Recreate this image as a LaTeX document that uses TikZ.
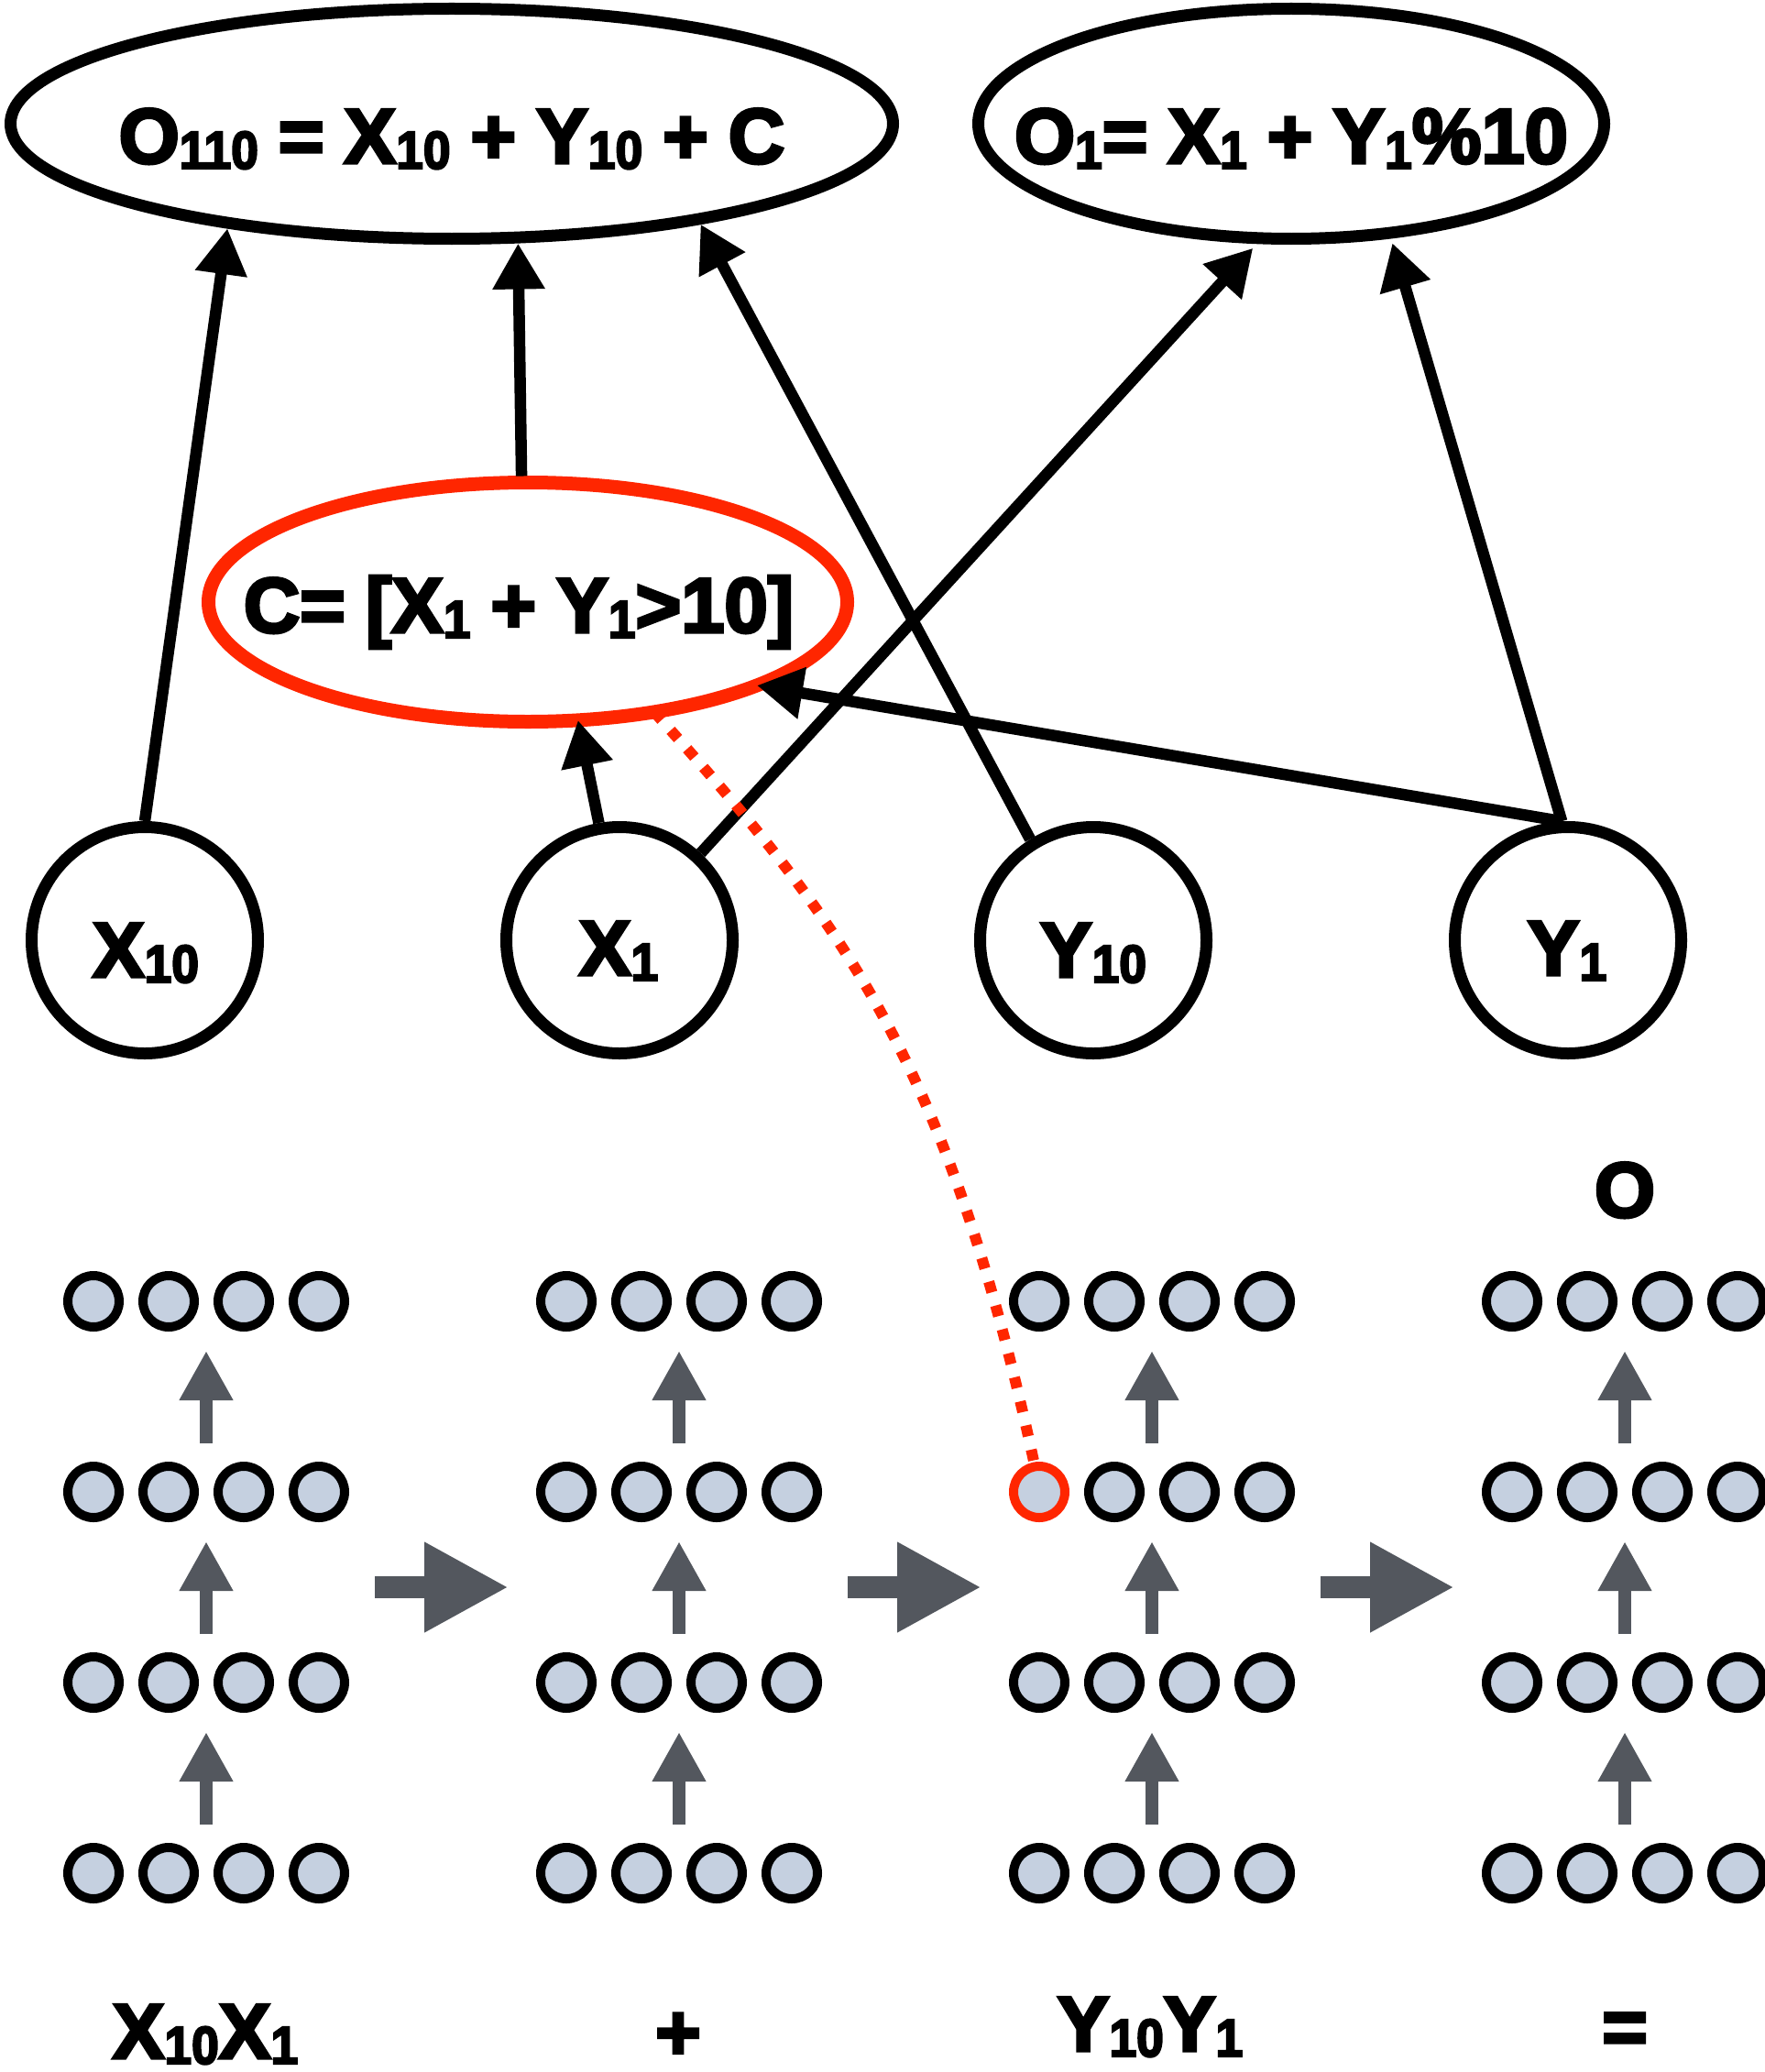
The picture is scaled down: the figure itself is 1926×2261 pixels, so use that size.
\documentclass[tikz,border=0pt]{standalone}
\usepackage{fontspec}
\setmainfont{Liberation Sans}[BoldFeatures={FakeBold=4}]
\usetikzlibrary{arrows.meta,shapes.geometric}

\definecolor{hlred}{RGB}{255,38,0}
\definecolor{unitfill}{RGB}{197,208,224}
\definecolor{flowgrey}{RGB}{83,87,94}

% lowered index digits
\newcommand{\lo}[1]{\raisebox{-6pt}{\fontsize{58}{58}\selectfont\scalebox{0.92}[1]{#1}}}

\tikzset{
  eq/.style={font=\fontsize{85}{85}\selectfont\bfseries, execute at begin node={\spaceskip=22pt\relax}, inner sep=0pt, anchor=base},
  formula/.style={ellipse, draw, line width=13pt, minimum height=251pt, inner sep=0pt},
  carry/.style={ellipse, draw=hlred, line width=15pt, minimum width=697pt, minimum height=261pt, inner sep=0pt, outer sep=0pt},
  var/.style={circle, draw, line width=13pt, minimum size=247pt, inner sep=0pt},
  link/.style={line width=12.5pt, -{Triangle[length=50pt,width=54pt]}},
  unit/.style={circle, draw, line width=10pt, fill=unitfill, minimum size=56pt, inner sep=0pt},
  sel321/.style={draw=hlred},
  uparrow/.style={flowgrey, line width=13.5pt, -{Triangle[length=54pt,width=55pt]}},
  bigarrow/.style={flowgrey, line width=24pt, -{Triangle[length=92pt,width=92pt]}},
  carrydots/.style={hlred, line width=12pt, dash pattern=on 12pt off 15pt},
}

\begin{document}
\begin{tikzpicture}[x=1pt,y=-1pt]
\useasboundingbox (0,0) rectangle (1926,2261);

% output formulas
\node[formula, minimum width=963pt] (otl) at (493,135) {};
\node[formula, minimum width=683pt] (otr) at (1409,135) {};
\node[eq] at (493,178) {O\lo{110} = X\lo{10} + Y\lo{10} + C};
\node[eq] at (1409,178) {O\lo{1}= X\lo{1} + Y\lo{1}\%10};

% carry
\node[carry] (ce) at (576,657) {};
\node[eq] at (566,690) {C= [X\lo{1} + Y\lo{1}>10]};

% input digits
\node[var] (x10) at (158,1026) {};
\node[var] (x1)  at (676,1026) {};
\node[var] (y10) at (1193,1026) {};
\node[var] (y1)  at (1711,1026) {};
\node[eq] at (159,1066) {X\lo{10}};
\node[eq] at (675,1064) {X\lo{1}};
\node[eq] at (1193,1066) {Y\lo{10}};
\node[eq] at (1710,1064) {Y\lo{1}};

% dependencies
\draw[link] (x10.north) -- (otl.205);
\draw[link, shorten <=7pt] (ce.93) -- (otl.299);
\draw[link] (y10.122) -- (otl.338);
\draw[link, shorten >=6pt] (x1.47) -- (otr.254);
\draw[link, shorten >=5pt] (y1.93) -- (otr.311);
\draw[link] (x1.100) -- (ce.293);
\draw[link] (y1.93) -- (ce.340);

% network columns
\foreach \g/\gx in {1/225,2/741,3/1257,4/1773}{
  \foreach \r/\ry in {1/1420,2/1628,3/1836,4/2044}{
    \coordinate (g\g r\r) at (\gx,\ry);
    \foreach \c/\dx in {1/-123,2/-41,3/41,4/123}{
      \node[unit, sel\g\r\c/.try] (g\g r\r c\c) at ({\gx+(\dx)},\ry) {};
    }
  }
  \coordinate (m\g) at (\gx,1732);
  \foreach \r/\s in {1/2,2/3,3/4}{
    \draw[uparrow, shorten <=53pt, shorten >=54pt] (g\g r\s) -- (g\g r\r);
  }
}
\foreach \a/\b in {1/2,2/3,3/4}{
  \draw[bigarrow, shorten <=184pt, shorten >=186pt] (m\a) -- (m\b);
}

% carry neuron
\draw[carrydots] (ce.319) .. controls +(205,228) and +(-95,-440) .. (g3r2c1.100);

% captions
\node[eq] at (1773,1328) {O};
\node[eq] at (224,2246) {X\lo{10}X\lo{1}};
\node[eq] at (740,2247) {+};
\node[eq] at (1255,2238) {Y\lo{10}Y\lo{1}};
\node[eq] at (1773,2241) {=};
\end{tikzpicture}
\end{document}
